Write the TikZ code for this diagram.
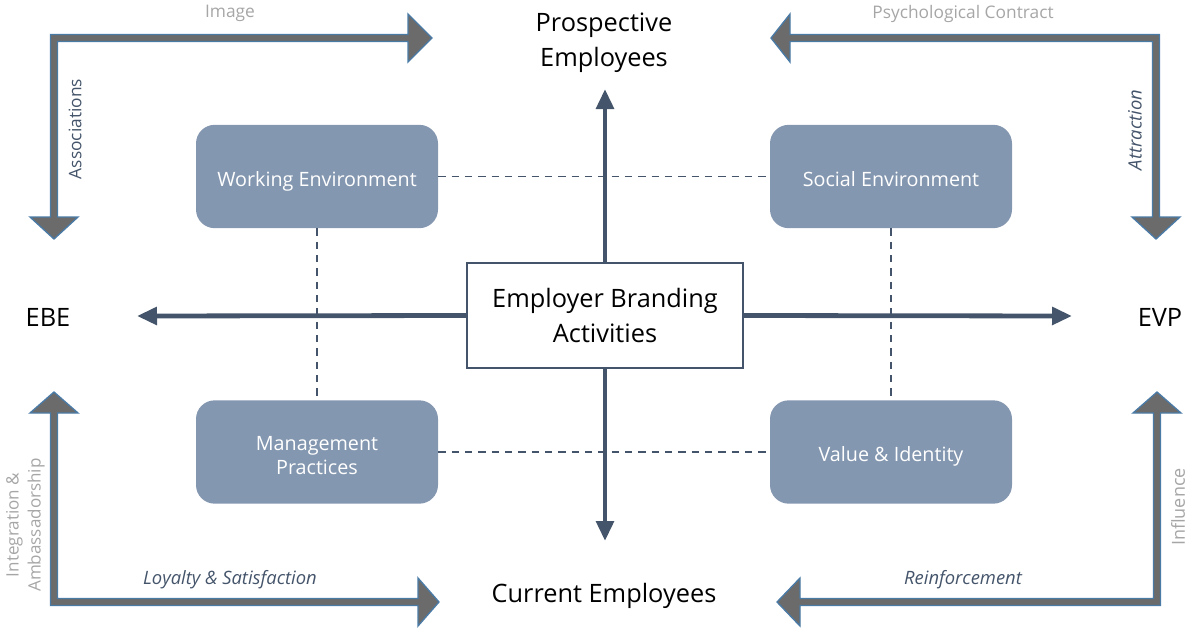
\documentclass[tikz,border=0pt]{standalone}
\usepackage{fontspec}
\setmainfont{Open Sans}
\usetikzlibrary{arrows.meta}
\definecolor{slate}{HTML}{44546A}
\definecolor{boxfill}{HTML}{8497B0}
\definecolor{elbowfill}{HTML}{6B6B6B}
\definecolor{elbowline}{HTML}{4A7BA6}
\definecolor{lightlbl}{HTML}{A6A6A6}
\tikzset{
  area/.style={rounded corners=14, fill=boxfill, text=white, minimum width=181.5pt, minimum height=77.5pt, align=center, font=\fontsize{14.8}{19}\selectfont, inner sep=0},
  oneline/.style={text height=14.3pt, text depth=0pt},
  centerbox/.style={draw=slate, line width=1.1pt, fill=white, minimum width=207pt, minimum height=78.5pt, align=center, font=\fontsize{19}{26}\selectfont, inner sep=0},
  pole/.style={font=\fontsize{19}{26}\selectfont, align=center, inner sep=0},
  axis/.style={slate, line width=3.6pt, -{Triangle[length=15pt,width=13pt]}},
  link/.style={slate, line width=1.1pt, dash pattern=on 5.5pt off 4.5pt},
  elbow/.style={fill=elbowfill, draw=elbowline, line width=1pt, line join=miter},
  faint/.style={text=lightlbl, font=\fontsize{13}{15}\selectfont, inner sep=0},
  flow/.style={text=slate, font=\fontsize{13.8}{16}\selectfont\itshape, inner sep=0},
}
\begin{document}
\begin{tikzpicture}[x=0.75pt,y=-0.75pt]
\useasboundingbox (0,0) rectangle (1189,629);
% nodes
\node[centerbox] (eba) at (605,315.5) {Employer Branding\\Activities};
\node[area, oneline] (we) at (317,176.5) {Working Environment};
\node[area, oneline] (se) at (891,176.5) {Social Environment};
\node[area] (mp) at (317,452) {\raisebox{-2.5pt}[\height][\depth]{\shortstack{Management\\[0.6pt]Practices}}};
\node[area, oneline] (vi) at (891,452) {Value \& Identity};
\node[pole] (pe) at (604,43) {Prospective\\Employees};
\node[pole] (ce) at (604,596) {Current Employees};
\node[pole] (ebe) at (48,317) {EBE};
\node[pole] (evp) at (1160,317) {EVP};
% axis ends
\coordinate (tipN) at (605,89);
\coordinate (tipS) at (605,541);
\coordinate (tipW) at (137,316);
\coordinate (tipE) at (1072,316);
\draw[axis] (eba.north) -- (tipN);
\draw[axis] (eba.south) -- (tipS);
\draw[axis] (eba.west) -- (tipW);
\draw[axis] (eba.east) -- (tipE);
% dashed links
\draw[link] (we.east) -- (se.west);
\draw[link] (mp.east) -- (vi.west);
\draw[link] (we.south) -- (mp.north);
\draw[link] (se.south) -- (vi.north);
% elbow arrows
% top-left
\draw[elbow] (432,38) -- (408,14) -- (408,34.5) -- (50.5,34.5) -- (50.5,217) -- (30,217) -- (54,239) -- (78,217) -- (57.5,217) -- (57.5,41.5) -- (408,41.5) -- (408,62) -- cycle;
% top-right
\draw[elbow] (771,38) -- (790,14) -- (790,34.5) -- (1159.5,34.5) -- (1159.5,217) -- (1180,217) -- (1156,239) -- (1132,217) -- (1152.5,217) -- (1152.5,41.5) -- (790,41.5) -- (790,62) -- cycle;
% bottom-left
\draw[elbow] (54,392) -- (78,413) -- (57.5,413) -- (57.5,598.5) -- (418,598.5) -- (418,578) -- (439,602) -- (418,626) -- (418,605.5) -- (50.5,605.5) -- (50.5,413) -- (30,413) -- cycle;
% bottom-right
\draw[elbow] (1157,392) -- (1181,413) -- (1160.5,413) -- (1160.5,605.5) -- (800,605.5) -- (800,626) -- (777,602) -- (800,578) -- (800,598.5) -- (1153.5,598.5) -- (1153.5,413) -- (1133,413) -- cycle;
% labels
\node[faint] (limg) at (230,13.5) {Image};
\node[faint] (lpc) at (963,13.5) {Psychological Contract};
\node[flow, rotate=90, font=\fontsize{13}{15}\selectfont] (lass) at (75,129) {Associations};
\node[flow, rotate=90] (latt) at (1135,130) {Attraction};
\node[faint, rotate=90, align=center, font=\fontsize{12.8}{16.5}\selectfont] (lint) at (25.5,525) {Integration \&\\Ambassadorship};
\node[faint, rotate=90, font=\fontsize{13.5}{15}\selectfont] (linf) at (1178,507) {Influence};
\node[flow] (lloy) at (230,580) {Loyalty \& Satisfaction};
\node[flow] (lrei) at (963,580) {Reinforcement};
\end{tikzpicture}
\end{document}
